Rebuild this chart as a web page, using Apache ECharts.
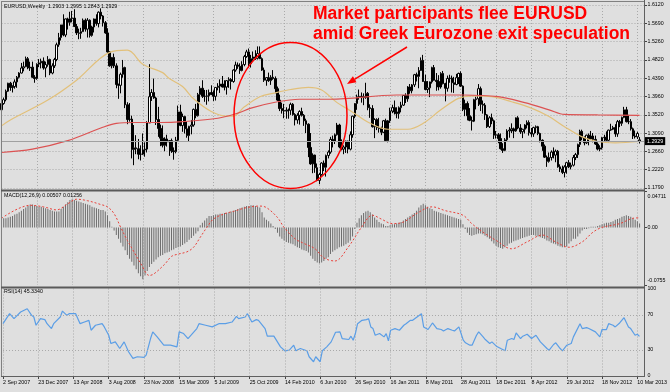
<!DOCTYPE html>
<html><head><meta charset="utf-8">
<script src="https://cdn.jsdelivr.net/npm/echarts@6/dist/echarts.min.js"></script>
<style>html,body{margin:0;padding:0;background:#dfdfdf;}#c{width:670px;height:392px;}</style>
</head><body><div id="c"></div>
<script>
// ---------- DATA ----------
const dateTickLabels = ['2 Sep 2007','23 Dec 2007','13 Apr 2008','3 Aug 2008','23 Nov 2008','15 Mar 2009','5 Jul 2009','25 Oct 2009','14 Feb 2010','6 Jun 2010','26 Sep 2010','16 Jan 2011','8 May 2011','28 Aug 2011','18 Dec 2011','8 Apr 2012','29 Jul 2012','18 Nov 2012','10 Mar 2013'];
const priceTickLabels = ['1.1790','1.2220','1.2660','1.3090','1.3520','1.3960','1.4390','1.4820','1.5260','1.5690','1.6120'];

const opens = [
1.364,1.379,1.388,1.408,1.427,1.417,1.419,1.430,1.441,1.451,
1.463,1.466,1.485,1.463,1.465,1.441,1.438,1.472,1.475,1.479,
1.463,1.471,1.483,1.451,1.468,1.483,1.518,1.535,1.565,1.541,
1.579,1.571,1.580,1.581,1.561,1.546,1.545,1.549,1.576,1.555,
1.576,1.540,1.560,1.579,1.568,1.595,1.586,1.570,1.546,1.501,
1.468,1.488,1.468,1.424,1.422,1.448,1.464,1.376,1.341,1.342,
1.270,1.274,1.272,1.259,1.259,1.269,1.271,1.333,1.395,1.405,
1.392,1.341,1.320,1.297,1.280,1.295,1.288,1.291,1.267,1.265,
1.292,1.359,1.327,1.348,1.319,1.303,1.325,1.328,1.365,1.350,
1.400,1.415,1.396,1.396,1.397,1.405,1.400,1.396,1.417,1.420,
1.425,1.418,1.418,1.433,1.436,1.431,1.458,1.470,1.467,1.457,
1.471,1.490,1.501,1.473,1.485,1.489,1.486,1.497,1.485,1.458,
1.434,1.440,1.433,1.441,1.438,1.414,1.387,1.367,1.362,1.361,
1.363,1.363,1.377,1.353,1.340,1.351,1.360,1.351,1.338,1.330,
1.275,1.236,1.257,1.227,1.197,1.211,1.238,1.228,1.256,1.264,
1.294,1.290,1.305,1.328,1.276,1.271,1.276,1.290,1.271,1.305,
1.349,1.379,1.395,1.396,1.395,1.393,1.403,1.369,1.367,1.324,
1.341,1.322,1.320,1.311,1.338,1.291,1.338,1.361,1.369,1.359,
1.355,1.369,1.375,1.398,1.390,1.418,1.409,1.423,1.447,1.443,
1.457,1.481,1.431,1.412,1.416,1.430,1.464,1.434,1.431,1.418,
1.450,1.426,1.415,1.438,1.439,1.428,1.424,1.440,1.450,1.420,
1.365,1.379,1.350,1.339,1.337,1.388,1.390,1.414,1.377,1.375,
1.352,1.324,1.345,1.338,1.304,1.305,1.296,1.272,1.268,1.293,
1.314,1.316,1.319,1.314,1.345,1.321,1.312,1.318,1.328,1.334,
1.310,1.307,1.322,1.324,1.308,1.292,1.278,1.252,1.242,1.251,
1.264,1.257,1.266,1.229,1.224,1.216,1.229,1.239,1.229,1.233,
1.251,1.258,1.282,1.313,1.298,1.286,1.304,1.295,1.302,1.294,
1.283,1.271,1.274,1.298,1.299,1.292,1.316,1.318,1.322,1.307,
1.336,1.332,1.346,1.364,1.336,1.336,1.319,1.302,1.300,1.2903];
const highs = [
1.380,1.393,1.412,1.428,1.430,1.422,1.436,1.444,1.453,1.475,
1.478,1.490,1.489,1.478,1.478,1.446,1.474,1.484,1.485,1.488,
1.478,1.491,1.485,1.474,1.487,1.523,1.546,1.565,1.590,1.580,
1.582,1.596,1.598,1.602,1.567,1.556,1.558,1.580,1.580,1.581,
1.578,1.563,1.580,1.590,1.597,1.604,1.588,1.574,1.557,1.503,
1.489,1.497,1.474,1.426,1.452,1.482,1.466,1.382,1.380,1.350,
1.328,1.304,1.295,1.280,1.308,1.287,1.337,1.472,1.413,1.438,
1.395,1.371,1.329,1.327,1.299,1.305,1.292,1.296,1.275,1.300,
1.374,1.376,1.355,1.350,1.336,1.326,1.340,1.367,1.378,1.404,
1.420,1.434,1.411,1.411,1.412,1.422,1.410,1.418,1.427,1.436,
1.444,1.434,1.434,1.441,1.439,1.460,1.478,1.476,1.474,1.479,
1.494,1.506,1.509,1.494,1.502,1.505,1.514,1.514,1.488,1.464,
1.441,1.452,1.446,1.458,1.443,1.419,1.400,1.381,1.378,1.370,
1.367,1.381,1.380,1.356,1.356,1.363,1.369,1.354,1.343,1.332,
1.309,1.261,1.258,1.237,1.215,1.240,1.244,1.258,1.268,1.300,
1.303,1.308,1.333,1.331,1.294,1.280,1.291,1.291,1.313,1.350,
1.380,1.400,1.412,1.405,1.403,1.428,1.406,1.377,1.375,1.344,
1.344,1.345,1.324,1.340,1.343,1.340,1.369,1.376,1.386,1.370,
1.372,1.383,1.399,1.403,1.420,1.425,1.425,1.449,1.452,1.465,
1.488,1.494,1.447,1.432,1.431,1.466,1.470,1.451,1.446,1.453,
1.456,1.428,1.445,1.447,1.445,1.442,1.449,1.452,1.455,1.422,
1.388,1.384,1.368,1.348,1.390,1.395,1.425,1.419,1.386,1.380,
1.354,1.349,1.355,1.341,1.314,1.309,1.308,1.285,1.297,1.318,
1.323,1.332,1.322,1.346,1.349,1.330,1.319,1.330,1.339,1.339,
1.321,1.324,1.327,1.326,1.310,1.294,1.282,1.256,1.263,1.268,
1.275,1.270,1.269,1.235,1.232,1.233,1.240,1.245,1.239,1.257,
1.262,1.284,1.317,1.317,1.301,1.305,1.308,1.314,1.309,1.303,
1.287,1.280,1.300,1.305,1.313,1.317,1.331,1.326,1.330,1.340,
1.340,1.348,1.371,1.371,1.352,1.342,1.322,1.315,1.312,1.2995];
const lows = [
1.357,1.376,1.384,1.406,1.409,1.405,1.414,1.416,1.438,1.450,
1.455,1.465,1.460,1.456,1.440,1.428,1.435,1.465,1.462,1.459,
1.441,1.466,1.446,1.448,1.463,1.479,1.513,1.528,1.538,1.536,
1.554,1.563,1.571,1.560,1.541,1.531,1.532,1.548,1.549,1.535,
1.535,1.537,1.547,1.563,1.559,1.578,1.561,1.544,1.499,1.466,
1.462,1.463,1.415,1.390,1.403,1.440,1.368,1.330,1.336,1.249,
1.233,1.259,1.247,1.244,1.257,1.253,1.263,1.333,1.385,1.390,
1.328,1.300,1.278,1.275,1.266,1.277,1.255,1.262,1.246,1.261,
1.288,1.325,1.312,1.308,1.298,1.289,1.306,1.324,1.344,1.348,
1.382,1.392,1.383,1.376,1.384,1.399,1.385,1.386,1.410,1.404,
1.417,1.410,1.400,1.416,1.412,1.428,1.454,1.461,1.449,1.455,
1.467,1.487,1.464,1.464,1.480,1.482,1.483,1.484,1.456,1.430,
1.421,1.430,1.423,1.435,1.403,1.385,1.361,1.355,1.344,1.343,
1.343,1.352,1.350,1.327,1.331,1.329,1.348,1.326,1.309,1.252,
1.234,1.214,1.215,1.195,1.188,1.208,1.219,1.206,1.249,1.260,
1.275,1.283,1.303,1.273,1.268,1.259,1.262,1.261,1.268,1.298,
1.344,1.364,1.388,1.381,1.375,1.390,1.363,1.345,1.322,1.297,
1.316,1.310,1.304,1.309,1.288,1.287,1.333,1.356,1.353,1.344,
1.343,1.358,1.373,1.380,1.383,1.402,1.403,1.418,1.431,1.415,
1.456,1.430,1.410,1.404,1.394,1.426,1.433,1.409,1.410,1.414,
1.424,1.384,1.407,1.428,1.405,1.404,1.422,1.425,1.418,1.361,
1.349,1.339,1.337,1.315,1.335,1.365,1.373,1.361,1.355,1.340,
1.321,1.321,1.330,1.295,1.296,1.285,1.270,1.262,1.266,1.289,
1.298,1.309,1.297,1.312,1.318,1.307,1.297,1.308,1.320,1.303,
1.300,1.300,1.309,1.304,1.287,1.267,1.250,1.229,1.239,1.244,
1.249,1.240,1.227,1.217,1.212,1.204,1.213,1.226,1.223,1.230,
1.245,1.250,1.276,1.292,1.280,1.283,1.280,1.293,1.287,1.281,
1.268,1.266,1.270,1.288,1.290,1.287,1.314,1.316,1.300,1.300,
1.323,1.326,1.344,1.334,1.330,1.315,1.295,1.296,1.295,1.2843];
const closes = [
1.379,1.388,1.408,1.427,1.417,1.419,1.430,1.441,1.451,1.463,
1.466,1.485,1.463,1.465,1.441,1.438,1.472,1.475,1.479,1.463,
1.471,1.483,1.451,1.468,1.483,1.518,1.535,1.565,1.541,1.579,
1.571,1.580,1.581,1.561,1.546,1.545,1.549,1.576,1.555,1.576,
1.540,1.560,1.579,1.568,1.595,1.586,1.570,1.546,1.501,1.468,
1.488,1.468,1.424,1.422,1.448,1.464,1.376,1.341,1.342,1.270,
1.274,1.272,1.259,1.259,1.269,1.271,1.333,1.395,1.405,1.392,
1.341,1.320,1.297,1.280,1.295,1.288,1.291,1.267,1.265,1.292,
1.359,1.327,1.348,1.319,1.303,1.325,1.328,1.365,1.350,1.400,
1.415,1.396,1.396,1.397,1.405,1.400,1.396,1.417,1.420,1.425,
1.418,1.418,1.433,1.436,1.431,1.458,1.470,1.467,1.457,1.471,
1.490,1.501,1.473,1.485,1.489,1.486,1.497,1.485,1.458,1.434,
1.440,1.433,1.441,1.438,1.414,1.387,1.367,1.362,1.361,1.363,
1.363,1.377,1.353,1.340,1.351,1.360,1.351,1.338,1.330,1.275,
1.236,1.257,1.227,1.197,1.211,1.238,1.228,1.256,1.264,1.294,
1.290,1.305,1.328,1.276,1.271,1.276,1.290,1.271,1.305,1.349,
1.379,1.395,1.396,1.395,1.393,1.403,1.369,1.367,1.324,1.341,
1.322,1.320,1.311,1.338,1.291,1.338,1.361,1.369,1.359,1.355,
1.369,1.375,1.398,1.390,1.418,1.409,1.423,1.447,1.443,1.457,
1.481,1.431,1.412,1.416,1.430,1.464,1.434,1.431,1.418,1.450,
1.426,1.415,1.438,1.439,1.428,1.424,1.440,1.450,1.420,1.365,
1.379,1.350,1.339,1.337,1.388,1.390,1.414,1.377,1.375,1.352,
1.324,1.345,1.338,1.304,1.305,1.296,1.272,1.268,1.293,1.314,
1.316,1.319,1.314,1.345,1.321,1.312,1.318,1.328,1.334,1.310,
1.307,1.322,1.324,1.308,1.292,1.278,1.252,1.242,1.251,1.264,
1.257,1.266,1.229,1.224,1.216,1.229,1.239,1.229,1.233,1.251,
1.258,1.282,1.313,1.298,1.286,1.304,1.295,1.302,1.294,1.283,
1.271,1.274,1.298,1.299,1.292,1.316,1.318,1.322,1.307,1.336,
1.332,1.346,1.364,1.336,1.336,1.319,1.302,1.300,1.308,1.2929];

// moving averages: [week index, value]
const maYellow = [[0,1.326],[4,1.340],[21,1.387],[34,1.434],[49,1.500],[57,1.505],[64,1.472],[73,1.452],[76,1.438],[82,1.419],[87,1.390],[95,1.360],[102,1.349],[105,1.349],[110,1.371],[117,1.395],[123,1.403],[131,1.412],[139,1.417],[145,1.411],[152,1.381],[158,1.362],[167,1.332],[175,1.318],[184,1.318],[191,1.332],[199,1.364],[207,1.391],[214,1.397],[222,1.395],[231,1.383],[240,1.368],[248,1.348],[255,1.324],[263,1.300],[270,1.289],[278,1.286],[289,1.289]];
const maRed = [[0,1.263],[14,1.271],[30,1.291],[45,1.321],[52,1.332],[60,1.334],[72,1.334],[82,1.336],[98,1.344],[107,1.356],[113,1.368],[125,1.383],[135,1.389],[149,1.389],[179,1.399],[209,1.399],[225,1.395],[237,1.381],[248,1.364],[255,1.353],[270,1.352],[289,1.351]];

const macdHist = [
0.011,0.012,0.012,0.013,0.014,0.015,0.017,0.018,0.020,0.022,
0.024,0.026,0.028,0.030,0.030,0.029,0.028,0.027,0.027,0.026,
0.025,0.024,0.023,0.022,0.021,0.021,0.021,0.024,0.027,0.030,
0.033,0.036,0.037,0.036,0.035,0.034,0.033,0.032,0.031,0.030,
0.029,0.027,0.026,0.025,0.024,0.023,0.023,0.021,0.016,0.008,
0.001,-0.004,-0.010,-0.015,-0.020,-0.025,-0.030,-0.036,-0.041,-0.045,
-0.050,-0.055,-0.060,-0.064,-0.068,-0.063,-0.057,-0.052,-0.048,-0.045,
-0.042,-0.039,-0.037,-0.036,-0.034,-0.033,-0.032,-0.030,-0.029,-0.027,
-0.026,-0.025,-0.023,-0.021,-0.019,-0.016,-0.014,-0.011,-0.008,-0.005,
0.003,0.006,0.009,0.012,0.015,0.015,0.016,0.017,0.017,0.018,
0.018,0.019,0.019,0.020,0.021,0.022,0.023,0.024,0.025,0.026,
0.027,0.028,0.028,0.029,0.029,0.028,0.027,0.026,0.020,0.013,
0.010,0.008,0.005,0.002,-0.002,-0.007,-0.012,-0.015,-0.017,-0.019,
-0.020,-0.021,-0.022,-0.024,-0.026,-0.027,-0.029,-0.030,-0.031,-0.033,
-0.037,-0.041,-0.044,-0.046,-0.047,-0.046,-0.044,-0.041,-0.039,-0.035,
-0.032,-0.030,-0.028,-0.026,-0.025,-0.024,-0.022,-0.020,-0.017,-0.012,
-0.002,0.006,0.012,0.016,0.019,0.021,0.022,0.020,0.017,0.013,
0.010,0.007,0.005,0.004,0.002,0.002,0.003,0.004,0.004,0.005,
0.006,0.007,0.009,0.011,0.013,0.015,0.017,0.019,0.022,0.026,
0.029,0.031,0.029,0.027,0.025,0.024,0.022,0.021,0.020,0.019,
0.018,0.017,0.016,0.015,0.014,0.013,0.012,0.011,0.010,0.004,
-0.002,-0.007,-0.010,-0.011,-0.010,-0.009,-0.008,-0.008,-0.009,-0.011,
-0.013,-0.015,-0.018,-0.021,-0.024,-0.026,-0.027,-0.028,-0.026,-0.024,
-0.021,-0.020,-0.018,-0.017,-0.016,-0.015,-0.014,-0.013,-0.012,-0.011,
-0.010,-0.010,-0.011,-0.012,-0.013,-0.014,-0.015,-0.017,-0.018,-0.020,
-0.021,-0.022,-0.024,-0.025,-0.026,-0.026,-0.025,-0.021,-0.018,-0.015,
-0.015,-0.012,-0.008,-0.004,-0.002,-0.002,-0.001,0.001,0.001,0.001,
0.002,0.003,0.004,0.005,0.006,0.006,0.007,0.008,0.010,0.011,
0.012,0.014,0.015,0.016,0.015,0.014,0.012,0.010,0.008,0.00507];
const macdSignal = [[0,0.012],[13,0.029],[19,0.027],[25,0.023],[30,0.031],[34,0.037],[39,0.035],[45,0.030],[48,0.027],[51,0.018],[54,0.000],[57,-0.017],[60,-0.032],[63,-0.047],[67,-0.063],[69,-0.061],[74,-0.048],[77,-0.038],[80,-0.035],[84,-0.032],[87,-0.026],[90,-0.013],[93,0.000],[96,0.011],[101,0.018],[105,0.021],[111,0.026],[117,0.028],[120,0.026],[125,0.013],[128,0.000],[133,-0.015],[137,-0.021],[142,-0.028],[146,-0.040],[151,-0.044],[157,-0.026],[163,0.000],[168,0.016],[172,0.011],[177,0.005],[182,0.007],[189,0.020],[195,0.027],[201,0.022],[209,0.016],[213,0.005],[218,-0.006],[224,-0.017],[231,-0.028],[238,-0.019],[245,-0.010],[251,-0.019],[257,-0.026],[263,-0.019],[268,-0.006],[272,0.000],[280,0.005],[286,0.012],[289,0.01256]];

const rsiPoints = [[0,59.8],[3,71.2],[5,65.5],[8,73.1],[11,76.9],[13,69.3],[14,67.4],[15,58],[17,65.5],[19,64.4],[20,59.8],[22,54.2],[23,59.8],[26,67.4],[27,74.2],[29,69.3],[30,71.2],[33,71.2],[35,59.8],[37,61.7],[39,63.6],[40,52.3],[42,58],[45,59.8],[46,56.1],[48,46.6],[49,37.1],[51,39],[53,31.4],[55,39],[57,27.7],[59,20.1],[61,22],[64,21.2],[65,23.9],[67,42.8],[68,50.4],[70,44.7],[73,35.2],[76,35.2],[79,33.3],[80,50.4],[82,48.5],[84,42.8],[86,48.5],[88,54.2],[89,59.8],[92,58],[95,56.1],[98,59.8],[101,59.8],[104,61.7],[106,68.2],[107,65.5],[110,67.4],[111,71.2],[113,61.7],[115,64.4],[116,63.6],[119,54.2],[120,45.5],[123,45.5],[126,33.3],[128,28.8],[130,29.5],[132,35.2],[133,28.8],[135,31.4],[138,28.8],[139,22],[141,16.3],[142,22],[144,16.3],[145,28.8],[147,33.3],[149,39],[151,50],[153,50.4],[154,42.8],[157,41.7],[158,45.5],[159,40.9],[160,48.5],[161,59.8],[163,63.6],[165,64.4],[166,65.5],[167,56.1],[168,54.2],[169,46.6],[171,48.5],[173,44.7],[174,48.5],[175,40.2],[176,52.3],[178,54.2],[180,52.3],[182,58],[183,59.8],[185,63.6],[186,63.6],[188,67.4],[190,71.2],[191,56.1],[193,53.1],[195,60.6],[197,54.2],[199,53.1],[200,51.5],[202,54.2],[204,52.3],[205,51.5],[207,56.1],[209,40.9],[210,37.9],[212,35.2],[213,35.2],[215,46.6],[216,50.4],[218,44.7],[219,41.7],[221,37.1],[222,39],[224,34.1],[226,31.4],[228,28.8],[229,40.9],[231,42.8],[232,41.7],[233,49.2],[235,42.8],[236,45.5],[238,47.7],[240,42.8],[242,46.6],[244,39],[247,31.4],[248,29.5],[250,36],[251,37.9],[253,31.4],[254,28.8],[256,35.2],[258,37.1],[259,44.7],[262,59.8],[263,54.2],[265,55.3],[266,54.2],[269,50.4],[271,44.7],[272,53.1],[274,53.1],[275,59.8],[277,58],[278,56.1],[280,60.6],[282,66.7],[284,56.1],[285,54.2],[287,46.6],[288,47.7],[289,45.334]];

// ---------- CHART ----------
const MONTHS = ['Jan','Feb','Mar','Apr','May','Jun','Jul','Aug','Sep','Oct','Nov','Dec'];
const WEEK_SLOTS = 292;
const firstWeek = Date.UTC(2007, 8, 2);
const categories = [];
for (let i = 0; i < WEEK_SLOTS; i++) {
  const d = new Date(firstWeek + i * 7 * 86400000);
  categories.push(d.getUTCDate() + ' ' + MONTHS[d.getUTCMonth()] + ' ' + d.getUTCFullYear());
}
const ohlc = opens.map((o, i) => [o, closes[i], lows[i], highs[i]]);
const last = closes.length - 1;
const FONT = '"Liberation Sans", Arial, sans-serif';
const SMALL = 5.3;
const GRID_COL = '#a9a9a9';

function xAx(gi, bottom) {
  return {
    type: 'category', gridIndex: gi, data: categories, boundaryGap: false,
    axisLine: { show: false },
    axisTick: { show: bottom, interval: 15, length: 3, lineStyle: { color: '#444' } },
    axisLabel: { show: bottom, interval: 15, align: 'left', fontSize: SMALL, color: '#000', fontFamily: FONT, margin: 4,
      formatter: (v, idx) => dateTickLabels[idx / 16] || '' },
    splitLine: { show: true, interval: 15, lineStyle: { color: GRID_COL, type: [1, 2], width: 1 } }
  };
}

const option = {
  backgroundColor: '#dfdfdf',
  animation: false,
  grid: [
    { left: 1.5, right: 26, top: 5, height: 183 },
    { left: 1.5, right: 26, top: 191.5, height: 93.5 },
    { left: 1.5, right: 26, top: 288.5, height: 87.5 }
  ],
  xAxis: [xAx(0, false), xAx(1, false), xAx(2, true)],
  yAxis: [
    { type: 'value', gridIndex: 0, position: 'right', min: 1.179, max: 1.612, interval: 0.0433,
      axisLine: { show: false }, axisTick: { show: true, length: 3, lineStyle: { color: '#444' } },
      axisLabel: { fontSize: SMALL, color: '#000', fontFamily: FONT, margin: 3.5,
        formatter: v => priceTickLabels[Math.round((v - 1.179) / 0.0433)] || '' },
      splitLine: { show: true, lineStyle: { color: GRID_COL, type: [1, 2], width: 1 } } },
    { type: 'value', gridIndex: 1, position: 'right', min: -0.0755, max: 0.04711, interval: 0.0755,
      axisLine: { show: false }, axisTick: { show: true, length: 3, lineStyle: { color: '#444' } },
      axisLabel: { fontSize: SMALL, color: '#000', fontFamily: FONT, margin: 3.5,
        formatter: v => Math.abs(v) < 1e-9 ? '0.00' : (v > 0 ? '{t|0.04711}' : '{b|-0.0755}'),
        rich: { t: { fontSize: SMALL, fontFamily: FONT, color: '#000', padding: [10, 0, 0, 0] },
                b: { fontSize: SMALL, fontFamily: FONT, color: '#000', padding: [0, 0, 8, 0] } } },
      splitLine: { show: false } },
    { type: 'value', gridIndex: 2, position: 'right', min: 0, max: 100, interval: 10,
      axisLine: { show: false }, axisTick: { show: false },
      axisLabel: { fontSize: SMALL, color: '#000', fontFamily: FONT, margin: 3.5,
        formatter: v => (v === 0 || v === 30 || v === 70 || v === 100) ? String(v) : '' },
      splitLine: { show: false } }
  ],
  series: [
    { type: 'candlestick', xAxisIndex: 0, yAxisIndex: 0, data: ohlc, barWidth: 2,
      itemStyle: { color: '#ffffff', color0: '#000000', borderColor: '#000000', borderColor0: '#000000', borderWidth: 1 },
      markLine: { silent: true, symbol: ['none', 'none'], animation: false,
        data: [{ yAxis: closes[last] }],
        lineStyle: { color: '#a0a0a0', width: 1, type: 'solid' },
        label: { show: true, position: 'end', formatter: () => closes[last].toFixed(4), color: '#fff',
          backgroundColor: '#000', fontSize: SMALL, fontFamily: FONT, padding: [2, 2, 1, 2], distance: 1 } } },
    { type: 'line', xAxisIndex: 0, yAxisIndex: 0, data: maYellow, smooth: 0.35, showSymbol: false, z: 3,
      lineStyle: { color: '#e2c07a', width: 1.2 } },
    { type: 'line', xAxisIndex: 0, yAxisIndex: 0, data: maRed, smooth: 0.35, showSymbol: false, z: 3,
      lineStyle: { color: '#dc5252', width: 1.2 } },
    { type: 'bar', xAxisIndex: 1, yAxisIndex: 1, data: macdHist, barWidth: 1,
      itemStyle: { color: '#6c6c6c' } },
    { type: 'line', xAxisIndex: 1, yAxisIndex: 1, data: macdSignal, smooth: 0.35, showSymbol: false, z: 3,
      lineStyle: { color: '#e8413a', width: 1, type: [2, 2] } },
    { type: 'line', xAxisIndex: 2, yAxisIndex: 2, data: rsiPoints, showSymbol: false,
      lineStyle: { color: '#5b9ee6', width: 1.2 },
      markLine: { silent: true, symbol: ['none', 'none'], animation: false, label: { show: false },
        data: [{ yAxis: 30 }, { yAxis: 70 }],
        lineStyle: { color: GRID_COL, type: [1, 2], width: 1 } } }
  ],
  graphic: [
    // frame / separators
    { type: 'line', silent: true, z: 50, shape: { x1: 1.5, y1: 1, x2: 1.5, y2: 377 }, style: { stroke: '#808080', lineWidth: 1 } },
    { type: 'line', silent: true, z: 50, shape: { x1: 1, y1: 1.5, x2: 645, y2: 1.5 }, style: { stroke: '#808080', lineWidth: 1 } },
    { type: 'line', silent: true, z: 50, shape: { x1: 644.5, y1: 0, x2: 644.5, y2: 377 }, style: { stroke: '#606060', lineWidth: 1 } },
    { type: 'rect', silent: true, z: 50, shape: { x: 1, y: 189.5, width: 644, height: 2 }, style: { fill: '#5a5a5a' } },
    { type: 'rect', silent: true, z: 50, shape: { x: 1, y: 286.5, width: 644, height: 2 }, style: { fill: '#5a5a5a' } },
    { type: 'line', silent: true, z: 50, shape: { x1: 1, y1: 376.5, x2: 645, y2: 376.5 }, style: { stroke: '#606060', lineWidth: 1 } },
    // panel captions
    { type: 'text', silent: true, z: 60, x: 4, y: 7, style: { text: 'EURUSD,Weekly  ' + opens[last].toFixed(4) + ' ' + highs[last].toFixed(4) + ' ' + lows[last].toFixed(4) + ' ' + closes[last].toFixed(4), font: SMALL + 'px ' + FONT, fill: '#000', textVerticalAlign: 'middle' } },
    { type: 'text', silent: true, z: 60, x: 4, y: 196, style: { text: 'MACD(12,26,9) ' + macdHist[last].toFixed(5) + ' ' + macdSignal[macdSignal.length - 1][1].toFixed(5), font: SMALL + 'px ' + FONT, fill: '#000', textVerticalAlign: 'middle' } },
    { type: 'text', silent: true, z: 60, x: 4, y: 292, style: { text: 'RSI(14) ' + rsiPoints[rsiPoints.length - 1][1].toFixed(4), font: SMALL + 'px ' + FONT, fill: '#000', textVerticalAlign: 'middle' } },
    // annotation
    { type: 'text', silent: true, z: 70, x: 313, y: 14, style: { text: 'Market participants flee EURUSD', font: 'bold 17.5px ' + FONT, fill: '#ff0000', textVerticalAlign: 'middle' } },
    { type: 'text', silent: true, z: 70, x: 313, y: 34, style: { text: 'amid Greek Eurozone exit speculation', font: 'bold 17.5px ' + FONT, fill: '#ff0000', textVerticalAlign: 'middle' } },
    { type: 'ellipse', silent: true, z: 70, shape: { cx: 290.5, cy: 115.5, rx: 56.5, ry: 73 }, style: { fill: 'none', stroke: '#ff0000', lineWidth: 1.5 } },
    { type: 'line', silent: true, z: 70, shape: { x1: 407, y1: 47, x2: 354.5, y2: 79.4 }, style: { stroke: '#ff0000', lineWidth: 1.5 } },
    { type: 'polygon', silent: true, z: 70, shape: { points: [[347, 84], [356.5, 82.3], [352.9, 76.3]] }, style: { fill: '#ff0000' } }
  ]
};
const chart = echarts.init(document.getElementById('c'));
chart.setOption(option);
</script>
</body></html>
